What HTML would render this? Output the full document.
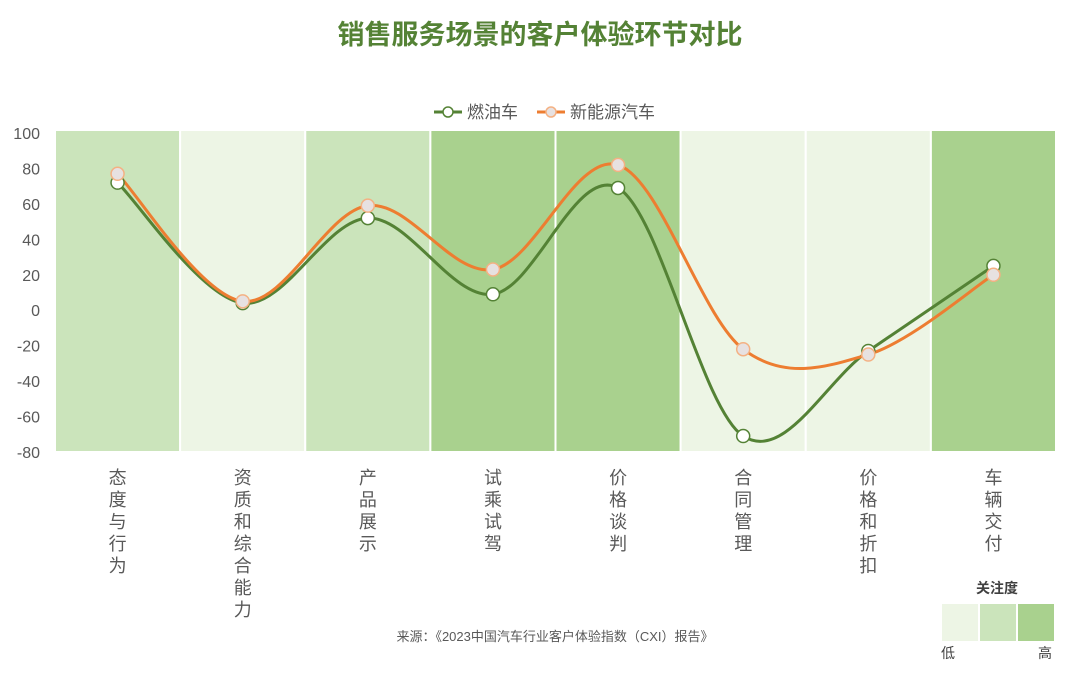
<!DOCTYPE html>
<html><head><meta charset="utf-8"><style>
body{margin:0;background:#fff;width:1080px;height:673px;overflow:hidden;font-family:"Liberation Sans","Noto Sans CJK SC",sans-serif}
svg text{font-family:"Liberation Sans","Noto Sans CJK SC",sans-serif}
</style></head><body>
<svg id="c" width="1080" height="673"></svg>
<script>
const categories=["态度与行为","资质和综合能力","产品展示","试乘试驾","价格谈判","合同管理","价格和折扣","车辆交付"];
const gasValues=[72,4,52,9,69,-71,-23,25];
const evValues=[77,5,59,23,82,-22,-25,20];
const attention=[2,1,2,3,3,1,1,3];
const yTicks=[100,80,60,40,20,0,-20,-40,-60,-80];
const NS="http://www.w3.org/2000/svg";
const svg=document.getElementById('c');
const X0=55,X1=1056,Y0=133,Y1=452,yMin=-80,yMax=100;
const bw=(X1-X0)/categories.length;
const xs=i=>X0+bw*(i+0.5);
const ys=v=>Y1-(v-yMin)/(yMax-yMin)*(Y1-Y0);
const bandColors={1:"#edf5e5",2:"#cbe4bb",3:"#a9d18e"};
function el(t,a,p){const e=document.createElementNS(NS,t);for(const k in a)e.setAttribute(k,a[k]);(p||svg).appendChild(e);return e;}
let t=el('text',{x:540,y:44,'text-anchor':'middle','font-size':27,'font-weight':'bold',fill:'#548235'});t.textContent="销售服务场景的客户体验环节对比";

categories.forEach((c,i)=>{
 const r=el('rect',{x:X0+bw*i,y:Y0-3,width:bw,height:Y1-Y0+3,fill:bandColors[attention[i]],stroke:'#fff','stroke-width':2});
 
 [...c].forEach((ch,j)=>{const tx=el('text',{x:xs(i),y:484+j*22,'text-anchor':'middle','font-size':18,fill:'#595959'});tx.textContent=ch;
 });
});
yTicks.forEach(v=>{const tx=el('text',{x:40,y:ys(v)+6,'text-anchor':'end','font-size':16,fill:'#595959'});tx.textContent=v;
 });
function smooth(vals){const p=vals.map((v,i)=>[xs(i),ys(v)]);let d=`M${p[0][0]},${p[0][1]}`;
 for(let i=0;i<p.length-1;i++){const a=p[i-1]||p[i],b=p[i],c=p[i+1],e=p[i+2]||c;
 d+=` C${b[0]+(c[0]-a[0])/6},${b[1]+(c[1]-a[1])/6} ${c[0]-(e[0]-b[0])/6},${c[1]-(e[1]-b[1])/6} ${c[0]},${c[1]}`;}return d;}
[[gasValues,'#548235','#ffffff','gas'],[evValues,'#ed7d31','#e7e1e1','ev']].forEach(([vals,col,fill,n])=>{
 const p=el('path',{d:smooth(vals),fill:'none',stroke:col,'stroke-width':3});
 
 vals.forEach(v=>{});
});
[[gasValues,'#548235','#ffffff','gas'],[evValues,'#ed7d31','#e7e1e1','ev']].forEach(([vals,col,fill,n])=>{
 vals.forEach((v,i)=>{const c=el('circle',{cx:xs(i),cy:ys(v),r:6.5,fill:fill,stroke:n=='ev'?'#f4b183':col,'stroke-width':1.5});
 });
});
// legend
const lg=el('g',{});
el('line',{x1:434,y1:112,x2:462,y2:112,stroke:'#548235','stroke-width':3},lg);
el('circle',{cx:448,cy:112,r:5,fill:'#fff',stroke:'#548235','stroke-width':1.5},lg);
let l1=el('text',{x:467,y:118,'font-size':17,fill:'#595959'},lg);l1.textContent="燃油车";
el('line',{x1:537,y1:112,x2:565,y2:112,stroke:'#ed7d31','stroke-width':3},lg);
el('circle',{cx:551,cy:112,r:5,fill:'#e7e1e1',stroke:'#f4b183','stroke-width':1.5},lg);
let l2=el('text',{x:570,y:118,'font-size':17,fill:'#595959'},lg);l2.textContent="新能源汽车";
let s=el('text',{x:555,y:641,'text-anchor':'middle','font-size':13,fill:'#595959'});s.textContent="来源：《2023中国汽车行业客户体验指数（CXI）报告》";

const k=el('g',{});
let kt=el('text',{x:997,y:593,'text-anchor':'middle','font-size':14,'font-weight':'bold',fill:'#404040'},k);kt.textContent="关注度";
["#edf5e5","#cbe4bb","#a9d18e"].forEach((c,i)=>el('rect',{x:942+i*38,y:604,width:36,height:37,fill:c},k));
let lo=el('text',{x:948,y:658,'text-anchor':'middle','font-size':14,fill:'#404040'},k);lo.textContent="低";
let hi=el('text',{x:1045,y:658,'text-anchor':'middle','font-size':14,fill:'#404040'},k);hi.textContent="高";
</script>
</body></html>
